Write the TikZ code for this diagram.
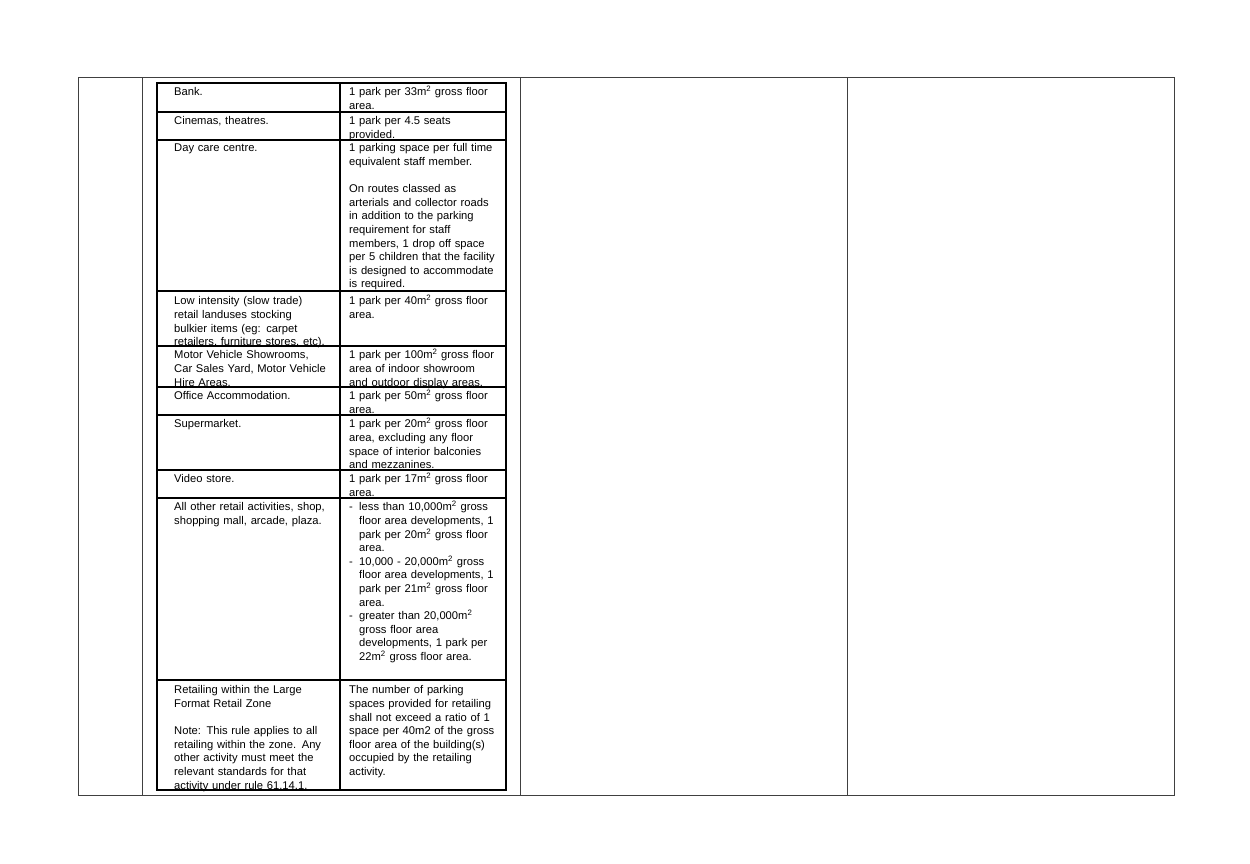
\documentclass[tikz,border=0pt]{standalone}
\usepackage{fontspec}
\setmainfont{Liberation Sans}
\newcommand{\jline}[1]{\par\noindent\hbox to \linewidth{\rule{0pt}{9pt}#1}\par}
\newcommand{\lline}[1]{\par\noindent\hbox{\rule{0pt}{9pt}#1}\par}
\newcommand{\bline}[1]{\par\noindent\hbox to \linewidth{\rule{0pt}{9pt}\hbox to 10pt{-\hss}#1}\par}
\newcommand{\bjline}[1]{\par\noindent\hbox to \linewidth{\rule{0pt}{9pt}\hskip 10pt #1}\par}
\newcommand{\blline}[1]{\par\noindent\hbox{\rule{0pt}{9pt}\hskip 10pt #1}\par}
\newcommand{\sq}{\textsuperscript{2}}
\begin{document}
\begin{tikzpicture}[x=1pt,y=-1pt,
  frame/.style={draw=black!75,line width=0.9pt},
  grid/.style={draw=black,line width=1.2pt},
  cellL/.style={anchor=north west,inner sep=0pt,text width=159pt,font=\fontsize{11.2}{13.6}\selectfont},
  cellR/.style={anchor=north west,inner sep=0pt,text width=150pt,font=\fontsize{11.2}{13.6}\selectfont}]
\fill[white] (0,0) rectangle (1250,863);
\useasboundingbox (0,0) rectangle (1250,863);
% outer frame
\draw[frame] (78,77) rectangle (1174,795);
\foreach \x in {142,520,847} \draw[frame] (\x,77) -- (\x,795);
% inner table
\draw[grid] (157,83) rectangle (506,790);
\draw[grid] (340,83) -- (340,790);
\foreach \y in {112,140,291,346,387,415,470,498,680} \draw[grid] (157,\y) -- (506,\y);
% texts
\begin{scope}[yshift=4pt]
\node[cellL] (l1) at (174,86) {\lline{Bank.}};
\node[cellR] (r1) at (349,86) {\jline{1 park per 33m\sq{} gross floor}\lline{area.}};
\node[cellL] (l2) at (174,115) {\lline{Cinemas, theatres.}};
\node[cellR] (r2) at (349,115) {\jline{1 park per 4.5 seats}\lline{provided.}};
\node[cellL] (l3) at (174,142) {\lline{Day care centre.}};
\node[cellR] (r3) at (349,142) {\jline{1 parking space per full time}\lline{equivalent staff member.}\lline{}
\jline{On routes classed as}\jline{arterials and collector roads}\jline{in addition to the parking}\jline{requirement for staff}\jline{members, 1 drop off space}\jline{per 5 children that the facility}\jline{is designed to accommodate}\lline{is required.}};
\node[cellL] (l4) at (174,295) {\jline{Low intensity (slow trade)}\jline{retail landuses stocking}\jline{bulkier items (eg: carpet}\lline{retailers, furniture stores, etc).}};
\node[cellR] (r4) at (349,295) {\jline{1 park per 40m\sq{} gross floor}\lline{area.}};
\node[cellL] (l5) at (174,349) {\jline{Motor Vehicle Showrooms,}\jline{Car Sales Yard, Motor Vehicle}\lline{Hire Areas.}};
\node[cellR] (r5) at (349,349) {\jline{1 park per 100m\sq{} gross floor}\jline{area of indoor showroom}\lline{and outdoor display areas.}};
\node[cellL] (l6) at (174,390) {\lline{Office Accommodation.}};
\node[cellR] (r6) at (349,390) {\jline{1 park per 50m\sq{} gross floor}\lline{area.}};
\node[cellL] (l7) at (174,418) {\lline{Supermarket.}};
\node[cellR] (r7) at (349,418) {\jline{1 park per 20m\sq{} gross floor}\jline{area, excluding any floor}\jline{space of interior balconies}\lline{and mezzanines.}};
\node[cellL] (l8) at (174,473) {\lline{Video store.}};
\node[cellR] (r8) at (349,473) {\jline{1 park per 17m\sq{} gross floor}\lline{area.}};
\node[cellL] (l9) at (174,501) {\jline{All other retail activities, shop,}\lline{shopping mall, arcade, plaza.}};
\node[cellR] (r9) at (349,501) {\bline{less than 10,000m\sq{} gross}\bjline{floor area developments, 1}\bjline{park per 20m\sq{} gross floor}\blline{area.}
\bline{10,000 - 20,000m\sq{} gross}\bjline{floor area developments, 1}\bjline{park per 21m\sq{} gross floor}\blline{area.}
\bline{greater than 20,000m\sq}\bjline{gross floor area}\bjline{developments, 1 park per}\blline{22m\sq{} gross floor area.}};
\node[cellL] (l10) at (174,684) {\jline{Retailing within the Large}\lline{Format Retail Zone}\lline{}
\jline{Note: This rule applies to all}\jline{retailing within the zone. Any}\jline{other activity must meet the}\jline{relevant standards for that}\lline{activity under rule 61.14.1.}};
\node[cellR] (r10) at (349,684) {\jline{The number of parking}\jline{spaces provided for retailing}\jline{shall not exceed a ratio of 1}\jline{space per 40m2 of the gross}\jline{floor area of the building(s)}\jline{occupied by the retailing}\lline{activity.}};
\end{scope}
\end{tikzpicture}
\end{document}
